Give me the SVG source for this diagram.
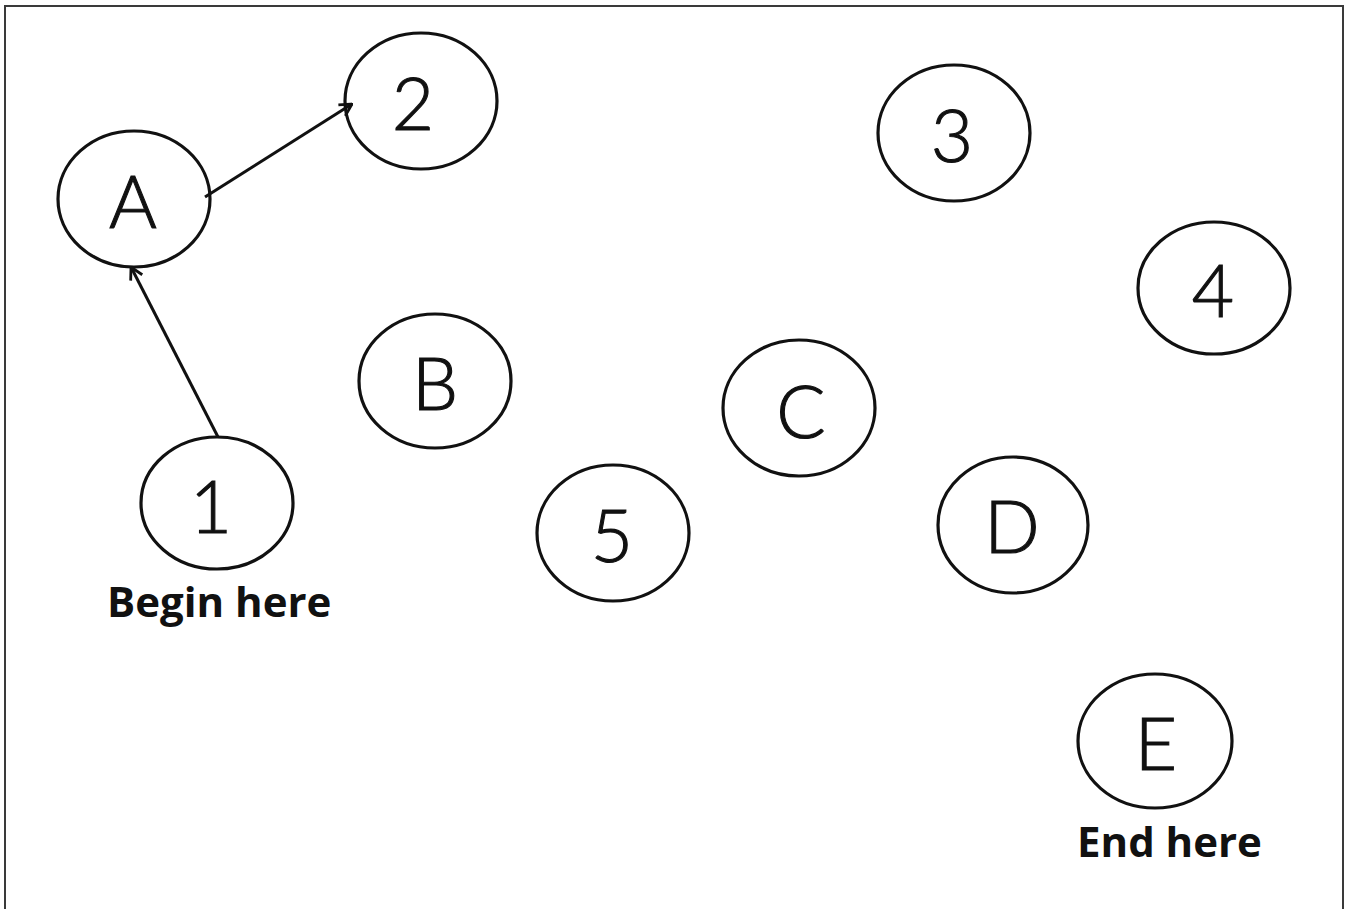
<svg xmlns="http://www.w3.org/2000/svg" width="1348" height="909" viewBox="0 0 1348 909">
<style>
.n{fill:#fff;stroke:#111;stroke-width:3.2}
.t{font-family:Lato,"Liberation Sans",sans-serif;font-weight:300;font-size:73px;fill:#111;stroke:#111;stroke-width:1.1;text-anchor:middle}
.lbl{font-family:"Open Sans","Liberation Sans",sans-serif;font-weight:bold;font-size:42px;fill:#111}
.e{fill:none;stroke:#111;stroke-width:3}
</style>
<defs>
<marker id="ah" viewBox="0 0 16 16" refX="15" refY="8" markerWidth="16" markerHeight="16" markerUnits="userSpaceOnUse" orient="auto">
<path d="M3,1.5 L15,8 L3,14.5" fill="none" stroke="#111" stroke-width="2.8"/>
</marker>
</defs>
<rect width="1348" height="909" fill="#fff"/>
<path d="M5,909 V6 H1343 V909" fill="none" stroke="#3a3a3a" stroke-width="2"/>
<g id="node-A"><ellipse class="n" cx="134" cy="199" rx="76" ry="68"/><text class="t" x="133" y="228">A</text></g>
<g id="node-2"><ellipse class="n" cx="421" cy="101" rx="76" ry="68"/><text class="t" x="413" y="130">2</text></g>
<g id="node-3"><ellipse class="n" cx="954" cy="133" rx="76" ry="68"/><text class="t" x="952" y="162">3</text></g>
<g id="node-4"><ellipse class="n" cx="1214" cy="288" rx="76" ry="66"/><text class="t" x="1213" y="317">4</text></g>
<g id="node-B"><ellipse class="n" cx="435" cy="381" rx="76" ry="67"/><text class="t" x="435" y="410">B</text></g>
<g id="node-C"><ellipse class="n" cx="799" cy="408" rx="76" ry="68"/><text class="t" x="801" y="438">C</text></g>
<g id="node-1"><ellipse class="n" cx="217" cy="503" rx="76" ry="66"/><text class="t" x="211" y="533">1</text></g>
<g id="node-5"><ellipse class="n" cx="613" cy="533" rx="76" ry="68"/><text class="t" x="612" y="562">5</text></g>
<g id="node-D"><ellipse class="n" cx="1013" cy="525" rx="75" ry="68"/><text class="t" x="1012" y="553">D</text></g>
<g id="node-E"><ellipse class="n" cx="1155" cy="741" rx="77" ry="67"/><text class="t" x="1156" y="770">E</text></g>
<g id="connectors">
<line class="e" x1="218" y1="437" x2="131" y2="267" marker-end="url(#ah)"/>
<line class="e" x1="205" y1="197" x2="352" y2="104" marker-end="url(#ah)"/>
</g>
<g id="label-begin"><text class="lbl" x="107" y="617">Begin here</text></g>
<g id="label-end"><text class="lbl" x="1077" y="857">End here</text></g>
</svg>
